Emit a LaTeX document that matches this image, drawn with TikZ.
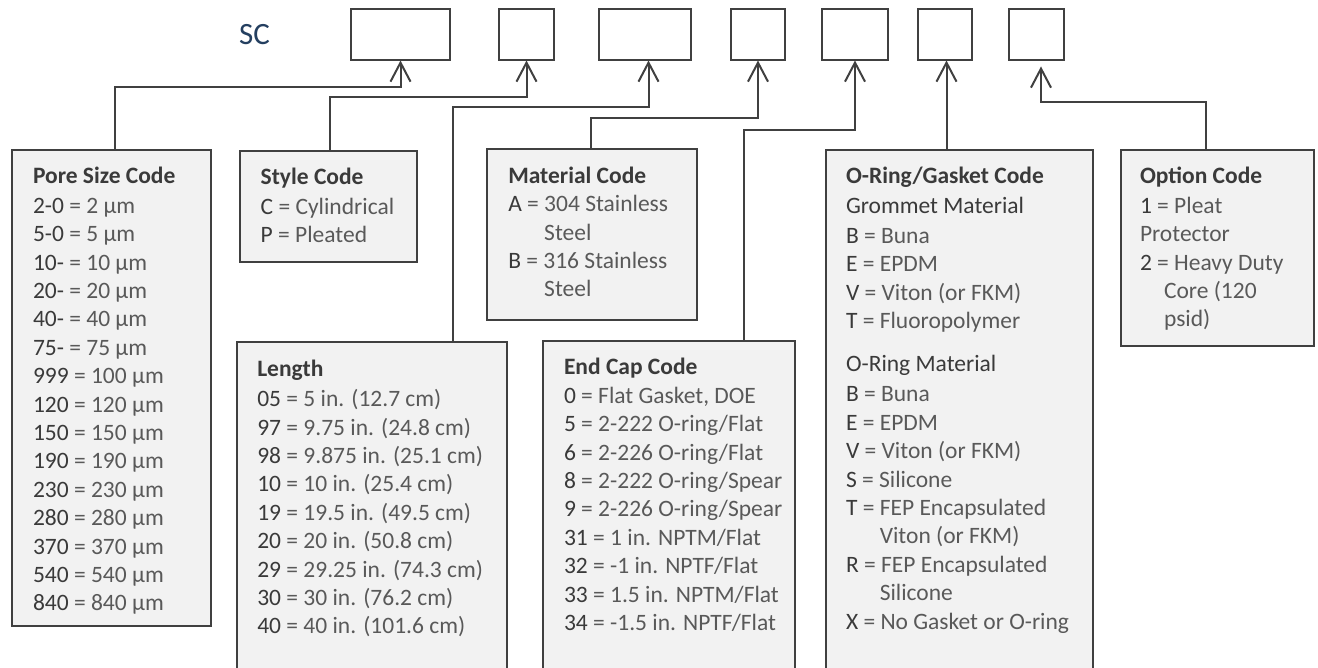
\documentclass[tikz,border=0pt]{standalone}
\usepackage{fontspec}
\setmainfont{Carlito}
\usetikzlibrary{arrows.meta}
\definecolor{linec}{HTML}{404040}
\definecolor{fillc}{HTML}{F2F2F2}
\definecolor{codec}{HTML}{3A3A3A}
\definecolor{descc}{HTML}{595959}
\definecolor{scc}{HTML}{243F60}
\newcommand\cd[1]{{\color{codec}#1}}
\newcommand\ttl[1]{{\color{codec}\bfseries #1}}
\begin{document}
\begin{tikzpicture}[x=1pt,y=-1pt,
  topbox/.style={draw=linec, line width=2pt, fill=white, inner sep=0pt, outer sep=0pt, anchor=north west},
  codebox/.style={draw=linec, line width=2pt, fill=fillc, inner sep=0pt, outer sep=0pt, anchor=north west},
  txt/.style={anchor=north west, inner sep=0pt, outer sep=0pt, align=left, text=descc, font=\fontsize{23.5}{28.4}\selectfont},
  conn/.style={draw=linec, line width=2pt, line join=miter, -{Straight Barb[length=19pt,width=20pt]}}]
\clip (0,0) rectangle (1318,668);
\fill[white] (0,0) rectangle (1318,668);

% SC label
\node[anchor=base west, inner sep=0pt, text=scc, font=\fontsize{31}{36}\selectfont] (sc) at (239,44.3) {SC};

% top boxes
\node[topbox, minimum width=99pt, minimum height=51.5pt] (b1) at (351,9) {};
\node[topbox, minimum width=55pt, minimum height=51.5pt] (b2) at (499,9) {};
\node[topbox, minimum width=92pt, minimum height=51.5pt] (b3) at (599,9) {};
\node[topbox, minimum width=54pt, minimum height=51.5pt] (b4) at (731,9) {};
\node[topbox, minimum width=66pt, minimum height=51.5pt] (b5) at (822,9) {};
\node[topbox, minimum width=54pt, minimum height=51.5pt] (b6) at (918,9) {};
\node[topbox, minimum width=55pt, minimum height=51.5pt] (b7) at (1009,9) {};

% code boxes
\node[codebox, minimum width=199pt, minimum height=476pt] (pore) at (12,150) {};
\node[codebox, minimum width=177pt, minimum height=111pt] (style) at (240,151) {};
\node[codebox, minimum width=270pt, minimum height=360pt] (length) at (237,342) {};
\node[codebox, minimum width=210pt, minimum height=171pt] (material) at (487,149.5) {};
\node[codebox, minimum width=252pt, minimum height=360pt] (endcap) at (543,341) {};
\node[codebox, minimum width=267pt, minimum height=560pt] (oring) at (826,150) {};
\node[codebox, minimum width=193pt, minimum height=196pt] (option) at (1121,150.5) {};

% texts
\node[txt] (poret) at (33,163.4) {\strut\ttl{Pore Size Code}\\[1.6pt]
\cd{2-0} = 2 µm\\
\cd{5-0} = 5 µm\\
\cd{10-} = 10 µm\\
\cd{20-} = 20 µm\\
\cd{40-} = 40 µm\\
\cd{75-} = 75 µm\\
\cd{999} = 100 µm\\
\cd{120} = 120 µm\\
\cd{150} = 150 µm\\
\cd{190} = 190 µm\\
\cd{230} = 230 µm\\
\cd{280} = 280 µm\\
\cd{370} = 370 µm\\
\cd{540} = 540 µm\\
\cd{840} = 840 µm};

\node[txt] (stylet) at (260.7,164.4) {\strut\ttl{Style Code}\\[1.6pt]
\cd{C} = Cylindrical\\
\cd{P} = Pleated};

\node[txt] (lengtht) at (257.3,356.8) {\strut\ttl{Length}\\[1.6pt]
\cd{05} = 5 in. (12.7 cm)\\
\cd{97} = 9.75 in. (24.8 cm)\\
\cd{98} = 9.875 in. (25.1 cm)\\
\cd{10} = 10 in. (25.4 cm)\\
\cd{19} = 19.5 in. (49.5 cm)\\
\cd{20} = 20 in. (50.8 cm)\\
\cd{29} = 29.25 in. (74.3 cm)\\
\cd{30} = 30 in. (76.2 cm)\\
\cd{40} = 40 in. (101.6 cm)};

\node[txt] (materialt) at (508.3,163.4) {\strut\ttl{Material Code}\\
\cd{A} = 304 Stainless\\
\phantom{\cd{A} = }Steel\\
\cd{B} = 316 Stainless\\
\phantom{\cd{A} = }Steel};

\node[txt] (endcapt) at (564,355.1) {\strut\ttl{End Cap Code}\\
\cd{0} = Flat Gasket, DOE\\
\cd{5} = 2-222 O-ring/Flat\\
\cd{6} = 2-226 O-ring/Flat\\
\cd{8} = 2-222 O-ring/Spear\\
\cd{9} = 2-226 O-ring/Spear\\
\cd{31} = 1 in. NPTM/Flat\\
\cd{32} = -1 in. NPTF/Flat\\
\cd{33} = 1.5 in. NPTM/Flat\\
\cd{34} = -1.5 in. NPTF/Flat};

\node[txt] (oringt) at (846,163.4) {\strut\ttl{O-Ring/Gasket Code}\\[1.6pt]
\cd{Grommet Material}\\[1.6pt]
\cd{B} = Buna\\
\cd{E} = EPDM\\
\cd{V} = Viton (or FKM)\\
\cd{T} = Fluoropolymer\\[15pt]
\cd{O-Ring Material}\\[1.6pt]
\cd{B} = Buna\\
\cd{E} = EPDM\\
\cd{V} = Viton (or FKM)\\
\cd{S} = Silicone\\
\cd{T} = FEP Encapsulated\\
\phantom{\cd{T} = }Viton (or FKM)\\
\cd{R} = FEP Encapsulated\\
\phantom{\cd{T} = }Silicone\\
\cd{X} = No Gasket or O-ring};

\node[txt] (optiont) at (1140,163.4) {\strut\ttl{Option Code}\\[1.6pt]
\cd{1} = Pleat\\
Protector\\
\cd{2} = Heavy Duty\\
\hspace*{24pt}Core (120\\
\hspace*{24pt}psid)};

% connectors
\draw[conn] ([xshift=3.5pt]pore.north) -- ++(0,-63) -| (b1.south);
\draw[conn] ([xshift=1.5pt]style.north) -- ++(0,-53.7) -| (b2.south);
\draw[conn] ([xshift=80.5pt]length.north) -- ++(0,-234.7) -| ([xshift=3.5pt]b3.south);
\draw[conn] ([xshift=-1.3pt]material.north) -- ++(0,-31.5) -| (b4.south);
\draw[conn] ([xshift=75pt]endcap.north) -- ++(0,-211.3) -| (b5.south);
\draw[conn] ([xshift=-13pt]oring.north) -- ([xshift=-13pt]oring.north |- b6.south);
\draw[conn] ([xshift=-11.5pt]option.north) -- ++(0,-48.8) -| ([xshift=4.5pt,yshift=-6pt]b7.south);
\end{tikzpicture}
\end{document}
